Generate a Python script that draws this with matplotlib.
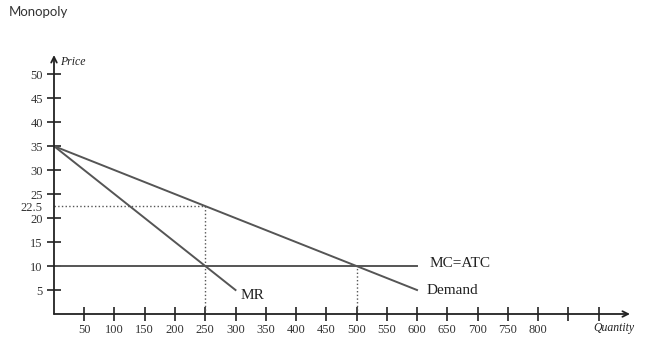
import numpy as np
import matplotlib.pyplot as plt

# monopoly diagram values
demand_q = [0, 600]
demand_p = [35, 5]
mr_q = [0, 300]
mr_p = [35, 5]
mc_q = [0, 600]
mc_p = [10, 10]
q_monopoly, p_monopoly = 250, 22.5
q_competitive, p_competitive = 500, 10

xticks = list(range(50, 901, 50))
xlabels = [str(v) if v <= 800 else '' for v in xticks]
yticks = [5, 10, 15, 20, 22.5, 25, 30, 35, 40, 45, 50]
ylabels = [str(v) for v in yticks]

grey = '#555555'
serif = 'Liberation Serif'

fig = plt.figure(figsize=(6.49, 3.54), dpi=100)
fig.text(0.014, 0.965, 'Monopoly', fontsize=9.5, color='#333333', family='Lato', va='center')

ax = fig.add_axes([0.0832, 0.113, 0.8875, 0.7316])
ax.set_xlim(0, 952)
ax.set_ylim(0, 54)
for s in ax.spines.values():
    s.set_visible(False)

# axes with arrows
ax.annotate('', xy=(952, 0), xytext=(0, 0),
            arrowprops=dict(arrowstyle='->', color='#222222', lw=1.3, shrinkA=0, shrinkB=0),
            annotation_clip=False)
ax.annotate('', xy=(0, 54), xytext=(0, 0),
            arrowprops=dict(arrowstyle='->', color='#222222', lw=1.3, shrinkA=0, shrinkB=0),
            annotation_clip=False)

ax.plot(demand_q, demand_p, color=grey, lw=1.4)
ax.plot(mr_q, mr_p, color=grey, lw=1.4)
ax.plot(mc_q, mc_p, color=grey, lw=1.4)

ax.plot([0, q_monopoly], [p_monopoly, p_monopoly], color=grey, lw=1, ls=':')
ax.plot([q_monopoly, q_monopoly], [0, p_monopoly], color=grey, lw=1, ls=':')
ax.plot([q_competitive, q_competitive], [0, p_competitive], color=grey, lw=1, ls=':')

ax.set_xticks(xticks)
ax.set_xticklabels(xlabels, family=serif, fontsize=9, color='#333333')
ax.set_yticks(yticks)
ax.set_yticklabels(ylabels, family=serif, fontsize=9, color='#333333')
ax.tick_params(axis='both', direction='inout', length=10, width=1.2, color='#222222', pad=2)
for t in ax.yaxis.get_major_ticks():
    if t.get_loc() == 22.5:
        t.tick1line.set_visible(False)
ax.tick_params(axis='y', pad=3)

ax.text(621, 10.5, 'MC=ATC', family=serif, fontsize=11, color='#222222', va='center')
ax.text(615, 4.9, 'Demand', family=serif, fontsize=11, color='#222222', va='center')
ax.text(308, 3.8, 'MR', family=serif, fontsize=11, color='#222222', va='center')
ax.text(10, 52.5, 'Price', family=serif, fontsize=8.5, style='italic', color='#222222', va='center')
ax.text(892, -3.0, 'Quantity', family=serif, fontsize=8.5, style='italic', color='#222222', va='center')

fig.savefig('out.png', dpi=100)
